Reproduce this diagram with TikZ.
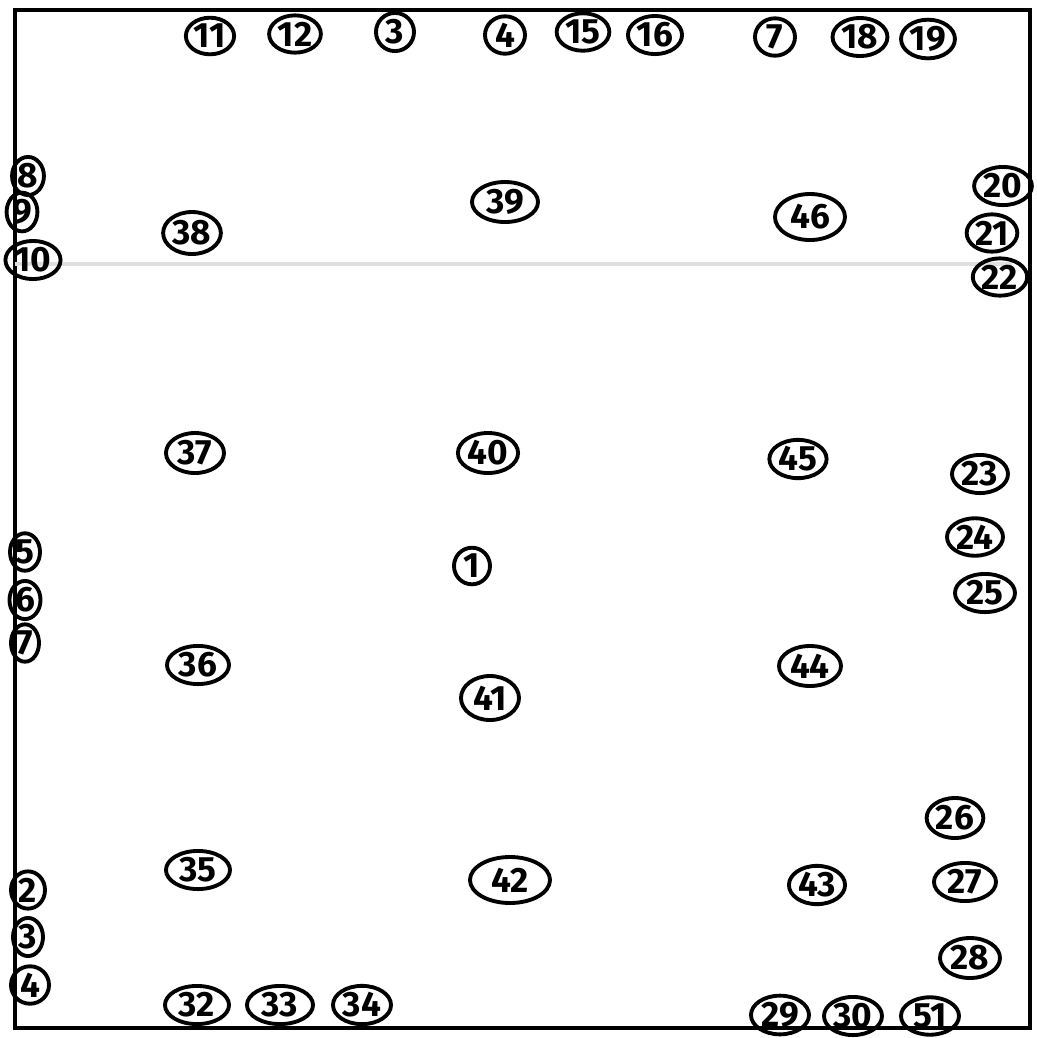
\documentclass[tikz,border=0pt]{standalone}
\usepackage{fontspec}
\setmainfont{Fira Sans}
\usepackage{tikz}
\usetikzlibrary{shapes.geometric,positioning}

\begin{document}
\begin{tikzpicture}[x=0.01cm, y=-0.01cm,
    pin/.style={draw, ellipse, line width=1.1pt, inner sep=0.3pt, minimum width=0.44cm, minimum height=0.32cm, font=\fontsize{10}{10}\selectfont\bfseries},
    wide/.style={pin, minimum width=0.6cm, minimum height=0.4cm},
    frame/.style={line width=1.1pt}
]
    \useasboundingbox (0,0) rectangle (1037,1038);
    % outline of the square
    \draw[frame] (15,10) rectangle (1030,1028);
    \draw[gray!25, line width=1pt] (15,264) -- (1012,264);

    % top row
    \node[pin] (n11) at (210,36) {11};
    \node[pin, minimum width=0.5cm, minimum height=0.34cm] (n12) at (295,34) {12};
    \node[pin, minimum width=0.38cm] (t3) at (395,32) {3};
    \node[pin, minimum width=0.4cm] (t4) at (505,35) {4};
    \node[pin, minimum width=0.38cm] (n15) at (583,32) {15};
    \node[pin, minimum width=0.4cm] (n16) at (655,35) {16};
    \node[pin, minimum width=0.4cm] (t7) at (775,37) {7};
    \node[pin] (n18) at (860,37) {18};
    \node[pin] (n19) at (928,39) {19};

    % left column
    \node[pin, minimum width=0.3cm] (n8) at (28,176) {8};
    \node[pin, minimum width=0.28cm, minimum height=0.3cm] (n9) at (22,212) {9};
    \node[pin, minimum width=0.42cm, minimum height=0.3cm] (n10) at (33,260) {10};
    \node[pin, minimum width=0.3cm, minimum height=0.3cm] (l5) at (25,552) {5};
    \node[pin, minimum width=0.28cm, minimum height=0.28cm] (l6) at (25,600) {6};
    \node[pin, minimum width=0.28cm, minimum height=0.3cm] (l7) at (25,643) {7};
    \node[pin, minimum width=0.34cm, minimum height=0.28cm] (l2) at (28,890) {2};
    \node[pin, minimum width=0.3cm, minimum height=0.3cm] (l3) at (28,937) {3};
    \node[pin, minimum width=0.38cm, minimum height=0.3cm] (l4) at (30,985) {4};

    % right column
    \node[pin, minimum width=0.38cm, minimum height=0.36cm] (n20) at (1003,186) {20};
    \node[pin, minimum width=0.36cm, minimum height=0.3cm] (n21) at (992,233) {21};
    \node[pin, minimum width=0.42cm] (n22) at (1000,277) {22};
    \node[wide, minimum width=0.56cm, minimum height=0.36cm] (n23) at (980,474) {23};
    \node[wide, minimum width=0.56cm, minimum height=0.36cm] (n24) at (975,537) {24};
    \node[wide, minimum height=0.36cm] (n25) at (985,593) {25};
    \node[wide, minimum width=0.56cm] (n26) at (955,818) {26};
    \node[wide, minimum width=0.62cm, minimum height=0.36cm] (n27) at (965,882) {27};
    \node[wide] (n28) at (970,958) {28};

    % bottom row
    \node[wide, minimum width=0.64cm, minimum height=0.36cm] (n32) at (197,1005) {32};
    \node[wide, minimum width=0.66cm, minimum height=0.34cm] (n33) at (280,1005) {33};
    \node[wide, minimum width=0.58cm, minimum height=0.3cm] (n34) at (362,1005) {34};
    \node[wide, minimum width=0.58cm, minimum height=0.32cm] (n29) at (780,1015) {29};
    \node[wide, minimum width=0.58cm, minimum height=0.32cm] (n30) at (853,1016) {30};
    \node[wide, minimum width=0.58cm, minimum height=0.32cm] (n51) at (930,1016) {51};

    % inside
    \node[wide, minimum width=0.56cm, minimum height=0.42cm] (n38) at (192,233) {38};
    \node[wide, minimum width=0.66cm] (n39) at (505,202) {39};
    \node[wide, minimum width=0.7cm, minimum height=0.46cm] (n46) at (810,217) {46};
    \node[wide, minimum width=0.58cm] (n37) at (195,453) {37};
    \node[wide] (n40) at (488,453) {40};
    \node[wide, minimum width=0.56cm, minimum height=0.36cm] (n45) at (798,459) {45};
    \node[pin, minimum width=0.36cm, minimum height=0.34cm] (n1) at (472,566) {1};
    \node[wide, minimum width=0.62cm, minimum height=0.38cm] (n36) at (198,665) {36};
    \node[wide, minimum width=0.58cm, minimum height=0.44cm] (n41) at (490,698) {41};
    \node[wide, minimum width=0.62cm] (n44) at (810,666) {44};
    \node[wide, minimum width=0.64cm, minimum height=0.36cm] (n35) at (198,870) {35};
    \node[wide, minimum width=0.8cm, minimum height=0.46cm] (n42) at (510,880) {42};
    \node[wide, minimum width=0.54cm, minimum height=0.38cm] (n43) at (817,885) {43};
\end{tikzpicture}
\end{document}
